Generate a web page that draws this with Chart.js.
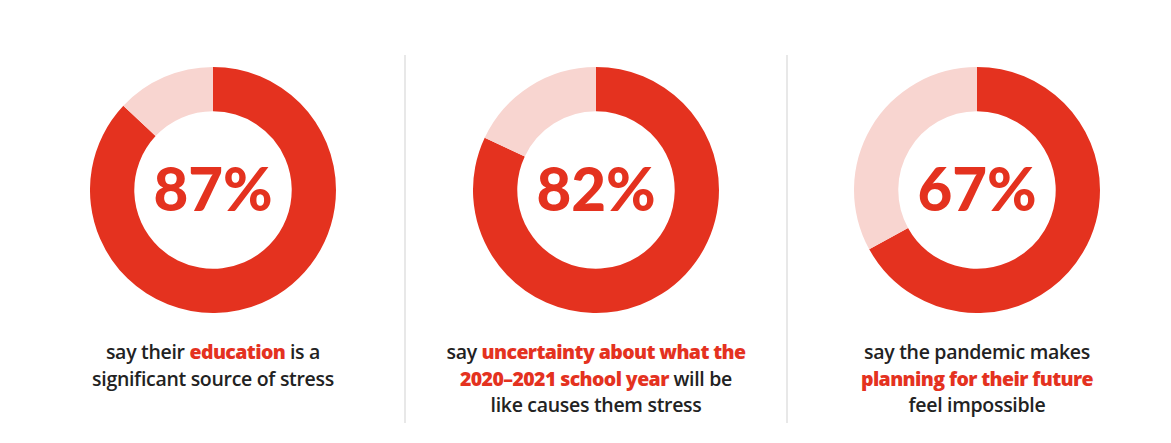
<!DOCTYPE html>
<html>
<head>
<meta charset="utf-8">
<script src="https://cdn.jsdelivr.net/npm/chart.js@4"></script>
<style>
  body { margin: 0; background: #fff; width: 1171px; height: 443px; position: relative; overflow: hidden; font-family: Lato, "Open Sans", sans-serif; }
  .divider { position: absolute; top: 55px; width: 2px; height: 368px; background: #e8e8e8; }
  .box { position: absolute; top: 67px; width: 246px; height: 246px; }
  .caption { position: absolute; top: 339px; width: 380px; text-align: center; font-family: "Open Sans", sans-serif; font-size: 19.5px; line-height: 26.5px; font-weight: 600; color: #222; letter-spacing: -0.3px; }
  .caption b { color: #e4321f; font-weight: 800; letter-spacing: -0.6px; }
</style>
</head>
<body>
<div class="divider" style="left:404px"></div>
<div class="divider" style="left:786px"></div>

<div class="box" style="left:90px"><canvas id="c0"></canvas></div>
<div class="box" style="left:473px"><canvas id="c1"></canvas></div>
<div class="box" style="left:854px"><canvas id="c2"></canvas></div>

<div class="caption" style="left:23px">say their <b>education</b> is a<br>significant source of stress</div>
<div class="caption" style="left:406px">say <b>uncertainty about what the<br>2020–2021 school year</b> will be<br>like causes them stress</div>
<div class="caption" style="left:787px">say the pandemic makes<br><b>planning for their future</b><br>feel impossible</div>

<script>
  // share of students for each statement
  let percents = [87, 82, 67];
  let labels = ["Yes", "Other"];

  const red = "#e4321f";
  const pink = "#f8d5d0";

  // write the big percentage in the middle of the ring
  const centerText = {
    id: "centerText",
    afterDraw(chart) {
      let c = chart.ctx;
      let arc = chart.getDatasetMeta(0).data[0];
      c.save();
      c.fillStyle = red;
      c.font = "900 60px Lato, 'Open Sans', sans-serif";
      c.textAlign = "center";
      c.textBaseline = "middle";
      c.fillText(chart.data.datasets[0].data[0] + "%", arc.x, arc.y + 2);
      c.restore();
    },
  };

  for (let i = 0; i < percents.length; i++) {
    new Chart(document.getElementById("c" + i), {
      type: "doughnut",
      data: {
        labels: labels,
        datasets: [
          {
            data: [percents[i], 100 - percents[i]],
            backgroundColor: [red, pink],
            borderWidth: 0,
          },
        ],
      },
      options: {
        responsive: true,
        maintainAspectRatio: false,
        animation: false,
        cutout: "64%",
        plugins: {
          legend: { display: false },
          tooltip: { enabled: false },
        },
      },
      plugins: [centerText],
    });
  }
</script>
</body>
</html>
